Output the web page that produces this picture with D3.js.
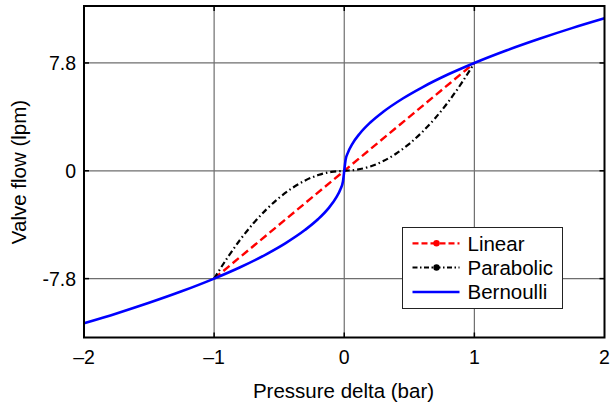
<!DOCTYPE html>
<html>
<head>
<meta charset="utf-8">
<script src="https://cdn.jsdelivr.net/npm/d3@7"></script>
<style>
  html, body { margin: 0; padding: 0; background: #fff; }
  svg { display: block; font-family: "Liberation Sans", Arial, Helvetica, sans-serif; }
</style>
</head>
<body>
<svg id="chart" width="611" height="407"></svg>
<script>
// Valve flow vs pressure delta for three orifice models
const xTicks = [-2, -1, 0, 1, 2];
const xTickLabels = ["\u20132", "\u20131", "0", "1", "2"];
const yTicks = [-7.8, 0, 7.8];
const yTickLabels = ["-7.8", "0", "7.8"];

const linearX = [-1, 0, 1];
const linearY = [-7.8, 0, 7.8];

const parabolicX = [-1, -0.9, -0.8, -0.7, -0.6, -0.5, -0.4, -0.3, -0.2, -0.1, 0,
                    0.1, 0.2, 0.3, 0.4, 0.5, 0.6, 0.7, 0.8, 0.9, 1];
const parabolicY = [-7.80, -6.32, -4.99, -3.82, -2.81, -1.95, -1.25, -0.70, -0.31, -0.08, 0,
                    0.08, 0.31, 0.70, 1.25, 1.95, 2.81, 3.82, 4.99, 6.32, 7.80];

const bernoulliX = [-2, -1.75, -1.5, -1.25, -1, -0.8, -0.6, -0.45, -0.3, -0.2, -0.12, -0.06, -0.03, -0.01, 0,
                    0.01, 0.03, 0.06, 0.12, 0.2, 0.3, 0.45, 0.6, 0.8, 1, 1.25, 1.5, 1.75, 2];
const bernoulliY = [-11.03, -10.32, -9.55, -8.72, -7.80, -6.98, -6.04, -5.23, -4.27, -3.49, -2.70, -1.91, -1.35, -0.78, 0,
                    0.78, 1.35, 1.91, 2.70, 3.49, 4.27, 5.23, 6.04, 6.98, 7.80, 8.72, 9.55, 10.32, 11.03];

const seriesNames = ["Linear", "Parabolic", "Bernoulli"];

const plot = { left: 84, right: 604.5, top: 6, bottom: 337.5 };

const svg = d3.select("#chart");
svg.append("rect").attr("width", 611).attr("height", 407).attr("fill", "#fff");

const x = d3.scaleLinear().domain([-2, 2]).range([plot.left, plot.right]);
const y = d3.scaleLinear().domain([-12.06, 11.92]).range([plot.bottom, plot.top]);

const g = svg.append("g");

// grid lines at the tick positions
g.append("g").selectAll("line").data(xTicks.slice(1, -1)).join("line")
  .attr("x1", d => x(d)).attr("x2", d => x(d))
  .attr("y1", plot.top).attr("y2", plot.bottom)
  .attr("stroke", "#6e6e6e").attr("stroke-width", 1.2);
g.append("g").selectAll("line").data(yTicks).join("line")
  .attr("y1", d => y(d)).attr("y2", d => y(d))
  .attr("x1", plot.left).attr("x2", plot.right)
  .attr("stroke", "#6e6e6e").attr("stroke-width", 1.2);

// curves
const line = d3.line().x(d => x(d[0])).y(d => y(d[1])).curve(d3.curveMonotoneX);
const zip = (a, b) => a.map((v, i) => [v, b[i]]);

g.append("path").datum(zip(linearX, linearY))
  .attr("d", line).attr("fill", "none")
  .attr("stroke", "#ff0000").attr("stroke-width", 2.4)
  .attr("stroke-dasharray", "8,4");

g.append("path").datum(zip(parabolicX, parabolicY))
  .attr("d", line).attr("fill", "none")
  .attr("stroke", "#000").attr("stroke-width", 2.2)
  .attr("stroke-dasharray", "6,3,1.5,3");

g.append("path").datum(zip(bernoulliX, bernoulliY))
  .attr("d", line).attr("fill", "none")
  .attr("stroke", "#0000ff").attr("stroke-width", 2.6);

// inward tick marks on all four sides
const tl = 5;
const innerX = xTicks.slice(1, -1);
g.append("g").selectAll("line").data(innerX).join("line")
  .attr("x1", d => x(d)).attr("x2", d => x(d))
  .attr("y1", plot.bottom).attr("y2", plot.bottom - tl)
  .attr("stroke", "#000").attr("stroke-width", 1.5);
g.append("g").selectAll("line").data(innerX).join("line")
  .attr("x1", d => x(d)).attr("x2", d => x(d))
  .attr("y1", plot.top).attr("y2", plot.top + tl)
  .attr("stroke", "#000").attr("stroke-width", 1.5);
g.append("g").selectAll("line").data(yTicks).join("line")
  .attr("y1", d => y(d)).attr("y2", d => y(d))
  .attr("x1", plot.left).attr("x2", plot.left + tl)
  .attr("stroke", "#000").attr("stroke-width", 1.5);
g.append("g").selectAll("line").data(yTicks).join("line")
  .attr("y1", d => y(d)).attr("y2", d => y(d))
  .attr("x1", plot.right).attr("x2", plot.right - tl)
  .attr("stroke", "#000").attr("stroke-width", 1.5);

// frame
g.append("rect")
  .attr("x", plot.left).attr("y", plot.top)
  .attr("width", plot.right - plot.left).attr("height", plot.bottom - plot.top)
  .attr("fill", "none").attr("stroke", "#000").attr("stroke-width", 2);

// tick labels
g.append("g").selectAll("text").data(xTicks).join("text")
  .attr("x", d => x(d)).attr("y", 364)
  .attr("text-anchor", "middle").attr("font-size", 19.5)
  .text((d, i) => xTickLabels[i]);
g.append("g").selectAll("text").data(yTicks).join("text")
  .attr("x", 76).attr("y", d => y(d) + 7)
  .attr("text-anchor", "end").attr("font-size", 19.5)
  .text((d, i) => yTickLabels[i]);

// axis titles
svg.append("text").attr("x", 343.5).attr("y", 397.5)
  .attr("text-anchor", "middle").attr("font-size", 20.5)
  .text("Pressure delta (bar)");
svg.append("text")
  .attr("transform", "translate(26,172) rotate(-90)")
  .attr("text-anchor", "middle").attr("font-size", 20.5)
  .text("Valve flow (lpm)");

// legend
const lg = svg.append("g");
lg.append("rect").attr("x", 402.5).attr("y", 227.5).attr("width", 160).attr("height", 81)
  .attr("fill", "#fff").attr("stroke", "#222").attr("stroke-width", 1);
const rowY = [243.3, 267.5, 292];
const styles = [
  { color: "#ff0000", dash: "6,3", width: 2.2, marker: true },
  { color: "#000", dash: "5,2.5,1.5,2.5", width: 2, marker: true },
  { color: "#0000ff", dash: null, width: 2.6, marker: false }
];
seriesNames.forEach((name, i) => {
  const s = styles[i];
  lg.append("line").attr("x1", 412.5).attr("x2", 459.5)
    .attr("y1", rowY[i]).attr("y2", rowY[i])
    .attr("stroke", s.color).attr("stroke-width", s.width)
    .attr("stroke-dasharray", s.dash);
  if (s.marker) {
    lg.append("circle").attr("cx", 436.5).attr("cy", rowY[i]).attr("r", 3.2).attr("fill", s.color);
  }
  lg.append("text").attr("x", 467.5).attr("y", rowY[i] + 7.3)
    .attr("font-size", 20.5).text(name);
});
</script>
</body>
</html>
